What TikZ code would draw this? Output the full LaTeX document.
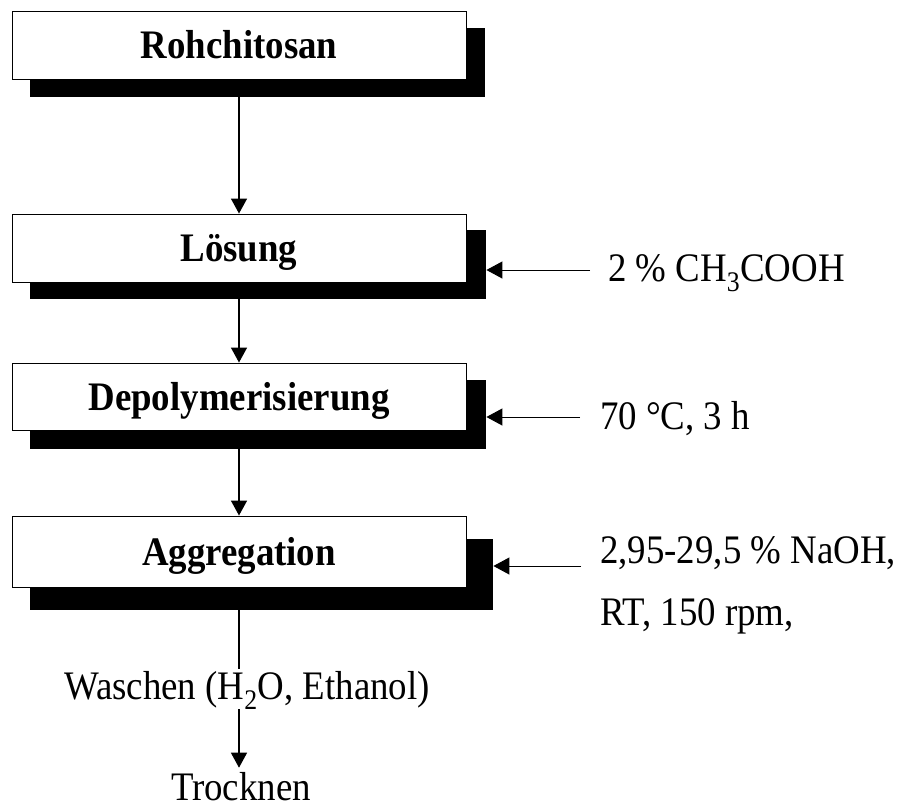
\documentclass[tikz,border=0pt]{standalone}
\usepackage{fontspec}
\setmainfont[FakeStretch=0.91]{Liberation Serif}
\usetikzlibrary{arrows.meta}
\begin{document}
\begin{tikzpicture}[x=1pt,y=-1pt,
  shadowbox/.style={fill=black, draw=none, inner sep=0pt, anchor=north west},
  stepbox/.style={draw=black, fill=white, line width=0.9pt, minimum width=454pt, inner sep=0pt,
    text height=27pt, text depth=0pt, font=\bfseries\fontsize{40.5}{48}\selectfont},
  lbl/.style={inner sep=0pt, font=\fontsize{40.5}{48}\selectfont},
  downarr/.style={-{Triangle[length=15pt,width=16pt]}, line width=1.4pt},
  sidearr/.style={-{Triangle[length=16pt,width=17pt]}, line width=1pt}]
\useasboundingbox (0,0) rectangle (900,806);

% shadows
\node[shadowbox, minimum width=455pt, minimum height=69pt] (s1) at (30,28) {};
\node[shadowbox, minimum width=456pt, minimum height=69pt] (s2) at (30,230) {};
\node[shadowbox, minimum width=456pt, minimum height=69pt] (s3) at (30,380) {};
\node[shadowbox, minimum width=463pt, minimum height=71pt] (s4) at (30,539) {};

% boxes
\node[stepbox, minimum height=68pt] (b1) at (239,45) {Rohchitosan};
\node[stepbox, minimum height=68pt] (b2) at (239,248) {Lösung};
\node[stepbox, minimum height=67pt] (b3) at (239,396.5) {Depolymerisierung};
\node[stepbox, minimum height=71pt] (b4) at (239,551.5) {Aggregation};

% side labels
\node[lbl, anchor=base west] (t2) at (608,281) {2 \% CH\textsubscript{3}COOH};
\node[lbl, anchor=base west] (t3) at (600,429) {70 °C, 3 h};
\node[lbl, anchor=base west] (t4) at (600,563) {2,95-29,5 \% NaOH,};
\node[lbl, anchor=base west] (t4b) at (600,625) {RT, 150 rpm,};

% bottom labels
\node[lbl, anchor=base west] (wash) at (64,699) {Waschen (H\textsubscript{2}O, Ethanol)};
\node[lbl, anchor=base] (tro) at (241,800) {Trocknen};

% vertical arrows
\draw[downarr] (b1.south) -- (b2.north);
\draw[downarr] (b2.south) -- (b3.north);
\draw[downarr] (b3.south) -- (b4.north);
\draw[line width=1.4pt, shorten >=2pt] (b4.south) -- (b4.south |- wash.north);
\draw[downarr, shorten >=4pt] (b4.south |- wash.south) -- (b4.south |- tro.north);

% side arrows
\coordinate (a2) at (590,270);
\coordinate (a3) at (580,417);
\coordinate (a4) at (581,566);
\draw[sidearr] (a2) -- (a2 -| s2.east);
\draw[sidearr] (a3) -- (a3 -| s3.east);
\draw[sidearr] (a4) -- (a4 -| s4.east);
\end{tikzpicture}
\end{document}
